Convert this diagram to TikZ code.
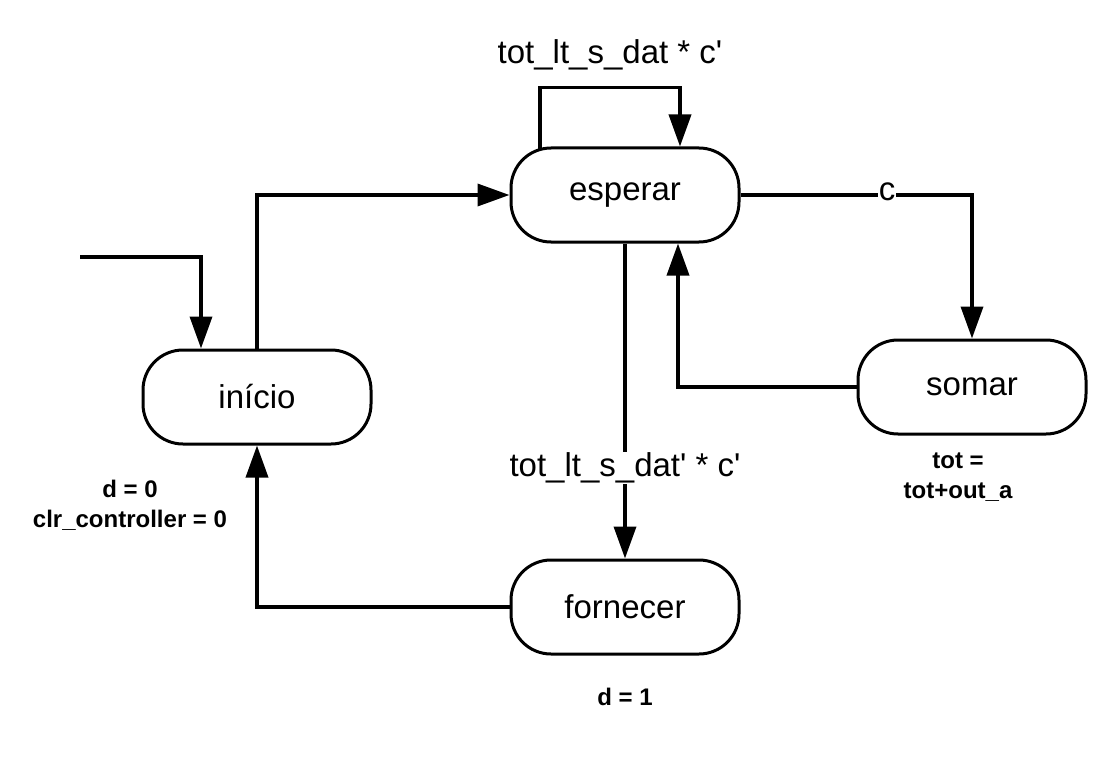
\documentclass[tikz,border=0pt]{standalone}
\usepackage{fontspec}
\setmainfont{Liberation Sans}
\usetikzlibrary{arrows.meta}
\begin{document}
\begin{tikzpicture}[x=1pt,y=-1pt,
            estado/.style={draw,line width=3pt,rounded corners=40pt,minimum width=228pt,minimum height=94pt,font=\fontsize{33}{40}\selectfont},
            seta/.style={line width=3.6pt,-{Triangle[length=32pt,width=22pt]}},
            rotulo/.style={font=\fontsize{33}{40}\selectfont,fill=white,inner sep=1pt},
            acao/.style={font=\fontsize{24}{30}\selectfont\bfseries,align=center}]
            \useasboundingbox (0,0) rectangle (1093,773);

            \node[estado] (esperar) at (625,195) {esperar};
            \node[estado] (inicio) at (257,397) {início};
            \node[estado] (somar) at (972,387) {somar};
            \node[estado] (fornecer) at (625,607) {fornecer};

            \coordinate (entrada) at (80,257);
            \draw[seta] (entrada) -| ([xshift=-56pt]inicio.north);

            \draw[seta] (inicio.north) |- (esperar.west);

            \draw[seta] ([xshift=-85pt,yshift=-4pt]esperar.north) -- ++(0,-63) -| ([xshift=55pt]esperar.north);
            \node[rotulo] (laco) at (610,55) {tot\_lt\_s\_dat * c\textquotesingle};

            \draw[seta] (esperar.east) -| (somar.north);
            \node[rotulo] (c) at (887,192) {c};

            \draw[seta] (somar.west) -| ([xshift=53pt]esperar.south);

            \draw[seta] (esperar.south) -- (fornecer.north);
            \node[rotulo] (forn) at (625,468) {tot\_lt\_s\_dat\textquotesingle{} * c\textquotesingle};

            \draw[seta] (fornecer.west) -| (inicio.south);

            \node[acao] (acaoinicio) at (130,505) {d = 0\\clr\_controller = 0};
            \node[acao] (acaosomar) at (958,477) {tot =\\tot+out\_a};
            \node[acao] (acaofornecer) at (625,697) {d = 1};
        \end{tikzpicture}
\end{document}
